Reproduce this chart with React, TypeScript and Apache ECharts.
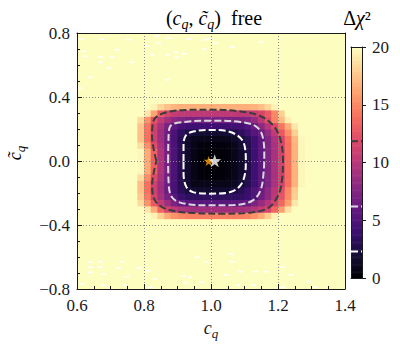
import React, { useEffect, useRef } from "react";
import * as echarts from "echarts";

// ---------- data ----------
const xRange = [0.6, 1.4];
const yRange = [-0.8, 0.8];
const xStep = 0.2;
const yStep = 0.4;
const colorRange = [0, 20];
const colorStep = 5;
const SATURATED = 20;

// Δχ² cell values (cells 0.02 wide, 0.04 tall); everything outside this window is saturated
const winX = [0.79, 0.81, 0.83, 0.85, 0.87, 0.89, 0.91, 0.93, 0.95, 0.97, 0.99, 1.01, 1.03, 1.05, 1.07, 1.09, 1.11, 1.13, 1.15, 1.17, 1.19, 1.21, 1.23, 1.25, 1.27];
const winY = [0.34, 0.30, 0.26, 0.22, 0.18, 0.14, 0.10, 0.06, 0.02, -0.02, -0.06, -0.10, -0.14, -0.18, -0.22, -0.26, -0.30, -0.34];
const chi2Window = [
  [20, 20, 19.5, 18.3, 17.4, 16.9, 16.7, 16.7, 16.7, 16.7, 16.7, 16.7, 16.7, 16.7, 16.7, 16.7, 16.7, 16.8, 17.3, 18.3, 19.5, 20, 20, 20, 20],
  [20, 19.0, 16.3, 13.0, 11.5, 10.7, 10.4, 10.3, 10.3, 10.3, 10.3, 10.3, 10.3, 10.3, 10.3, 10.3, 10.4, 10.9, 11.6, 12.8, 15.0, 18.0, 20, 20, 20],
  [18.5, 15.5, 12.5, 10.5, 9.0, 8.0, 7.4, 7.1, 7.0, 7.0, 7.0, 7.0, 7.0, 7.0, 7.0, 7.1, 7.4, 8.4, 10.2, 12.4, 14.8, 17.2, 19.4, 20, 20],
  [17.6, 14.3, 11.4, 9.2, 7.0, 5.6, 4.6, 4.2, 4.2, 4.2, 4.2, 4.2, 4.2, 4.2, 4.3, 4.5, 5.0, 6.2, 8.0, 10.0, 12.0, 14.2, 16.6, 19.0, 20],
  [17.4, 14.1, 11.1, 8.8, 6.5, 4.8, 3.4, 2.6, 2.1, 1.9, 1.9, 1.9, 1.9, 2.0, 2.5, 3.3, 4.3, 5.3, 6.4, 8.3, 10.5, 12.8, 15.3, 18.0, 20],
  [17.4, 14.1, 11.1, 8.8, 6.4, 4.7, 3.0, 1.7, 1.0, 0.9, 0.9, 0.9, 0.9, 1.0, 1.4, 2.2, 3.1, 4.2, 5.6, 7.4, 9.5, 11.6, 14.2, 17.0, 19.8],
  [18.6, 15.3, 12.1, 9.2, 6.6, 4.8, 3.0, 1.6, 0.7, 0.35, 0.33, 0.33, 0.33, 0.44, 0.88, 1.8, 2.8, 4.1, 5.6, 7.3, 9.3, 11.3, 14.0, 16.8, 19.7],
  [19.8, 16.6, 13.2, 9.6, 6.9, 4.9, 3.0, 1.6, 0.67, 0.2, 0.07, 0.07, 0.11, 0.37, 0.86, 1.6, 2.7, 4.1, 5.6, 7.3, 9.3, 11.3, 14.0, 16.8, 19.7],
  [19.8, 16.6, 13.2, 9.6, 6.9, 4.9, 3.0, 1.6, 0.67, 0.19, 0.01, 0.01, 0.1, 0.37, 0.86, 1.6, 2.7, 4.1, 5.6, 7.3, 9.3, 11.3, 14.0, 16.8, 19.7],
  [19.8, 16.6, 13.2, 9.6, 6.9, 4.9, 3.0, 1.6, 0.67, 0.19, 0.0, 0.01, 0.1, 0.37, 0.86, 1.6, 2.7, 4.1, 5.6, 7.3, 9.3, 11.3, 14.0, 16.8, 19.7],
  [19.8, 16.6, 13.2, 9.6, 6.9, 4.9, 3.0, 1.6, 0.67, 0.2, 0.06, 0.06, 0.11, 0.37, 0.86, 1.6, 2.7, 4.1, 5.6, 7.3, 9.3, 11.3, 14.0, 16.8, 19.7],
  [18.6, 15.3, 12.1, 9.2, 6.6, 4.8, 3.0, 1.6, 0.7, 0.3, 0.28, 0.28, 0.29, 0.42, 0.86, 1.7, 2.8, 4.1, 5.6, 7.3, 9.3, 11.3, 14.0, 16.8, 19.7],
  [17.4, 14.1, 11.1, 8.8, 6.4, 4.7, 3.0, 1.7, 0.9, 0.8, 0.8, 0.8, 0.8, 0.9, 1.2, 2.0, 2.9, 4.1, 5.6, 7.3, 9.3, 11.3, 14.0, 16.8, 19.7],
  [17.4, 14.1, 11.1, 8.8, 6.4, 4.7, 3.2, 2.3, 1.9, 1.6, 1.6, 1.6, 1.6, 1.7, 2.3, 3.0, 3.9, 5.0, 6.3, 8.0, 10.0, 12.3, 15.0, 17.8, 20],
  [17.8, 14.5, 11.5, 9.2, 7.0, 5.3, 4.0, 3.4, 3.3, 3.3, 3.3, 3.3, 3.3, 3.3, 3.4, 3.5, 4.0, 5.0, 6.6, 8.2, 10.3, 12.6, 15.2, 18.0, 20],
  [18.5, 15.5, 12.8, 10.6, 8.8, 7.2, 6.1, 5.5, 5.4, 5.4, 5.4, 5.4, 5.4, 5.4, 5.5, 5.7, 6.2, 7.2, 8.4, 9.8, 11.4, 13.5, 16.0, 19.0, 20],
  [20, 19.0, 16.5, 13.5, 11.5, 10.3, 9.6, 9.2, 8.9, 8.9, 8.9, 8.9, 8.9, 8.9, 8.9, 9.0, 9.2, 9.7, 10.5, 11.6, 13.5, 16.0, 18.8, 20, 20],
  [20, 20, 19.5, 18.0, 16.5, 15.5, 15.0, 14.7, 14.6, 14.6, 14.6, 14.6, 14.6, 14.6, 14.6, 14.7, 14.9, 15.5, 16.5, 18.0, 19.5, 20, 20, 20, 20],
];

// empty (missing) cells seen as white specks in the saturated region
const missingCells = [
  [0.612, 0.76], [0.675, 0.76], [0.754, 0.758], [0.62, 0.686], [0.72, 0.696], [0.625, 0.654], [0.67, 0.65],
  [0.705, 0.65], [0.67, 0.617], [0.695, 0.58], [0.764, 0.617], [0.64, 0.523], [0.608, 0.456], [0.839, 0.783],
  [0.844, 0.738], [0.874, 0.769], [0.933, 0.762], [0.983, 0.758], [0.98, 0.7], [0.809, 0.72], [0.824, 0.664],
  [0.87, 0.664], [0.896, 0.679], [0.92, 0.67], [0.898, 0.65], [0.87, 0.508], [0.995, 0.762], [1.014, 0.738],
  [1.064, 0.712], [1.149, 0.742],
  [0.64, -0.633], [0.67, -0.629], [0.734, -0.629], [0.64, -0.664], [0.67, -0.664], [0.724, -0.67], [0.784, -0.67],
  [0.64, -0.696], [0.68, -0.706], [0.749, -0.723], [0.615, -0.769], [0.68, -0.775], [0.744, -0.775], [0.814, -0.686],
  [0.834, -0.738], [0.918, -0.717], [0.938, -0.727], [0.958, -0.602], [0.988, -0.629], [0.923, -0.762], [0.973, -0.758],
  [0.819, -0.79], [1.059, -0.581], [1.064, -0.629], [1.045, -0.712], [1.088, -0.692], [1.134, -0.692], [1.164, -0.692],
  [1.08, -0.775], [1.127, -0.775], [1.214, -0.664], [1.239, -0.712], [1.293, -0.754], [1.31, -0.79], [1.214, -0.79],
];

// contour levels and their traced outlines
const contourLevels = [2.3, 6.18, 11.83];
const contour1 = [
  [0.918, 0.0], [0.918, 0.1], [0.925, 0.16], [0.95, 0.186], [1.0, 0.194], [1.045, 0.188], [1.075, 0.165],
  [1.095, 0.125], [1.103, 0.06], [1.104, 0.0], [1.102, -0.073], [1.088, -0.152], [1.058, -0.194], [1.0, -0.204],
  [0.948, -0.196], [0.926, -0.16], [0.918, -0.073], [0.918, 0.0],
];
const contour2 = [
  [0.872, 0.0], [0.873, 0.135], [0.879, 0.219], [0.928, 0.246], [1.0, 0.252], [1.088, 0.244], [1.132, 0.219],
  [1.152, 0.167], [1.159, 0.052], [1.157, -0.073], [1.147, -0.188], [1.122, -0.25], [1.068, -0.275], [0.988, -0.277],
  [0.908, -0.26], [0.881, -0.219], [0.873, -0.115], [0.872, 0.0],
];
const contour3 = [
  [0.837, 0.0], [0.829, 0.073], [0.824, 0.156], [0.826, 0.229], [0.834, 0.271], [0.869, 0.306], [0.928, 0.319],
  [1.0, 0.321], [1.088, 0.31], [1.147, 0.281], [1.187, 0.219], [1.207, 0.135], [1.215, 0.01], [1.212, -0.115],
  [1.202, -0.208], [1.172, -0.292], [1.117, -0.323], [1.038, -0.329], [0.948, -0.325], [0.869, -0.302],
  [0.834, -0.25], [0.824, -0.156], [0.829, -0.073], [0.837, 0.0],
];
const bestFit = [[0.993, 0.0]];
const smPoint = [[1.011, 0.002]];

// ---------- styles ----------
const FONT = "Liberation Serif";
const INK = "#1a1a1a";
const MAGMA = ["#000004", "#140e36", "#3b0f70", "#641a80", "#8c2981", "#b73779", "#de4968", "#f7705c", "#fe9f6d", "#fecf92", "#fcfdbf"];
const CONTOUR_COLORS = ["#ffffff", "#d9d9de", "#3c3c3c"];
const STAR = "path://M12,0 L14.9,8.6 L24,8.8 L16.7,14.3 L19.4,23 L12,17.8 L4.6,23 L7.3,14.3 L0,8.8 L9.1,8.6 Z";

const CELL_DX = 0.02;
const CELL_DY = 0.04;
const CB_STEP = 0.1;

function buildHeat() {
  const out: number[][] = [];
  const nx = Math.round((xRange[1] - xRange[0]) / CELL_DX);
  const ny = Math.round((yRange[1] - yRange[0]) / CELL_DY);
  const xi = new Map(winX.map((v, i) => [Math.round(v * 100), i]));
  const yi = new Map(winY.map((v, i) => [Math.round(v * 100), i]));
  for (let i = 0; i < nx; i++) {
    const x = xRange[0] + CELL_DX * (i + 0.5);
    for (let j = 0; j < ny; j++) {
      const y = yRange[0] + CELL_DY * (j + 0.5);
      const ci = xi.get(Math.round(x * 100));
      const rj = yi.get(Math.round(y * 100));
      const v = ci !== undefined && rj !== undefined ? chi2Window[rj][ci] : SATURATED;
      out.push([x, y, v]);
    }
  }
  return out;
}

function buildColorbar() {
  const out: number[][] = [];
  const n = Math.round((colorRange[1] - colorRange[0]) / CB_STEP);
  for (let i = 0; i < n; i++) {
    const v = colorRange[0] + CB_STEP * (i + 0.5);
    out.push([0.5, v, v]);
  }
  return out;
}

const fmt = (v: number) => (Math.abs(v) < 1e-9 ? "0.0" : v.toFixed(1)).replace("-", "\u2212");

const richBig = {
  rm: { fontFamily: FONT, fontSize: 20, lineHeight: 26, color: INK },
  it: { fontFamily: FONT, fontSize: 20, lineHeight: 26, fontStyle: "italic", color: INK },
  sub: { fontFamily: FONT, fontSize: 14, lineHeight: 14, fontStyle: "italic", verticalAlign: "bottom", color: INK },
};
const richAx = {
  it: { fontFamily: FONT, fontSize: 18, lineHeight: 24, fontStyle: "italic", color: INK },
  sub: { fontFamily: FONT, fontSize: 13, lineHeight: 13, fontStyle: "italic", verticalAlign: "bottom", color: INK },
};

const frameAxis = (grid: number, pos: string, min: number, max: number) => ({
  gridIndex: grid,
  type: "value",
  position: pos,
  min,
  max,
  z: 10,
  axisLine: { show: true, onZero: false, lineStyle: { color: INK, width: 1 } },
  axisTick: { show: false },
  axisLabel: { show: false },
  splitLine: { show: false },
});

export default function App() {
  const ref = useRef<HTMLDivElement>(null);
  useEffect(() => {
    const chart = echarts.init(ref.current!, undefined, { renderer: "svg" });
    const heat = buildHeat();
    const cb = buildColorbar();

    const contourSeries = [contour1, contour2, contour3].map((c, k) => ({
      type: "line",
      xAxisIndex: 0,
      yAxisIndex: 0,
      data: c,
      smooth: 0.35,
      symbol: "none",
      showSymbol: false,
      silent: true,
      z: 12,
      lineStyle: { color: CONTOUR_COLORS[k], width: 2, type: [7, 3] },
    }));
    const cbLines = contourLevels.map((lvl, k) => ({
      type: "line",
      xAxisIndex: 2,
      yAxisIndex: 2,
      data: [[0, lvl], [1, lvl]],
      symbol: "none",
      showSymbol: false,
      silent: true,
      z: 12,
      lineStyle: { color: CONTOUR_COLORS[k], width: 2, type: [7, 3] },
    }));

    const mainTicks = {
      axisLine: { show: true, onZero: false, lineStyle: { color: INK, width: 1 } },
      axisTick: { show: true, inside: true, length: 5, lineStyle: { color: INK, width: 1 } },
      minorTick: { show: true, splitNumber: 4, length: 3, lineStyle: { color: INK, width: 1 } },
      splitLine: { show: true, lineStyle: { color: "#8a8a8a", width: 1, type: [1, 2] } },
    };

    const option: any = {
      animation: false,
      backgroundColor: "#ffffff",
      textStyle: { fontFamily: FONT, color: INK },
      grid: [
        { left: 77, top: 33, width: 268, height: 256 },
        { left: 351, top: 47, width: 11, height: 231 },
      ],
      xAxis: [
        {
          gridIndex: 0,
          type: "value",
          min: xRange[0],
          max: xRange[1],
          interval: xStep,
          position: "bottom",
          z: 10,
          ...mainTicks,
          axisLabel: { margin: 8, fontSize: 17, fontFamily: FONT, color: INK, formatter: fmt, showMinLabel: true, showMaxLabel: true },
          name: "{it|c}{sub|q}",
          nameLocation: "middle",
          nameGap: 23,
          nameTextStyle: { rich: richAx },
        },
        frameAxis(0, "top", xRange[0], xRange[1]),
        frameAxis(1, "bottom", 0, 1),
        frameAxis(1, "top", 0, 1),
      ],
      yAxis: [
        {
          gridIndex: 0,
          type: "value",
          min: yRange[0],
          max: yRange[1],
          interval: yStep,
          position: "left",
          z: 10,
          ...mainTicks,
          axisLabel: { margin: 7, fontSize: 17, fontFamily: FONT, color: INK, formatter: fmt, showMinLabel: true, showMaxLabel: true },
        },
        frameAxis(0, "right", yRange[0], yRange[1]),
        {
          gridIndex: 1,
          type: "value",
          min: colorRange[0],
          max: colorRange[1],
          interval: colorStep,
          position: "right",
          z: 10,
          axisLine: { show: true, onZero: false, lineStyle: { color: INK, width: 1 } },
          axisTick: { show: true, inside: false, length: 4, lineStyle: { color: INK, width: 1 } },
          splitLine: { show: false },
          axisLabel: { margin: 10, fontSize: 17, fontFamily: FONT, color: INK, showMinLabel: true, showMaxLabel: true, formatter: (v: number) => String(Math.round(v)) },
        },
        frameAxis(1, "left", colorRange[0], colorRange[1]),
      ],
      visualMap: {
        type: "continuous",
        show: false,
        min: colorRange[0],
        max: colorRange[1],
        dimension: 2,
        seriesIndex: [0, 7],
        inRange: { color: MAGMA },
      },
      series: [
        {
          type: "custom",
          xAxisIndex: 0,
          yAxisIndex: 0,
          data: heat,
          encode: { x: 0, y: 1 },
          silent: true,
          z: 1,
          renderItem: (_p: any, api: any) => {
            const x = api.value(0);
            const y = api.value(1);
            const a = api.coord([x - CELL_DX / 2, y + CELL_DY / 2]);
            const b = api.coord([x + CELL_DX / 2, y - CELL_DY / 2]);
            return {
              type: "rect",
              shape: { x: a[0], y: a[1], width: b[0] - a[0] + 0.6, height: b[1] - a[1] + 0.6 },
              style: { fill: api.visual("color") },
            };
          },
        },
        {
          type: "custom",
          xAxisIndex: 0,
          yAxisIndex: 0,
          data: missingCells,
          encode: { x: 0, y: 1 },
          silent: true,
          z: 2,
          renderItem: (_p: any, api: any) => {
            const x = api.value(0);
            const y = api.value(1);
            const a = api.coord([x - 0.007, y + 0.005]);
            const b = api.coord([x + 0.007, y - 0.005]);
            return { type: "rect", shape: { x: a[0], y: a[1], width: b[0] - a[0], height: b[1] - a[1] }, style: { fill: "#ffffff" } };
          },
        },
        ...contourSeries,
        {
          type: "scatter",
          xAxisIndex: 0,
          yAxisIndex: 0,
          data: bestFit,
          symbol: STAR,
          symbolSize: 10,
          itemStyle: { color: "#ffa000" },
          z: 13,
          silent: true,
        },
        {
          type: "scatter",
          xAxisIndex: 0,
          yAxisIndex: 0,
          data: smPoint,
          symbol: STAR,
          symbolSize: 13,
          itemStyle: { color: "#ffffff" },
          z: 14,
          silent: true,
        },
        {
          type: "custom",
          xAxisIndex: 2,
          yAxisIndex: 2,
          data: cb,
          encode: { x: 0, y: 1 },
          silent: true,
          z: 1,
          renderItem: (_p: any, api: any) => {
            const v = api.value(1);
            const a = api.coord([0, v + CB_STEP / 2]);
            const b = api.coord([1, v - CB_STEP / 2]);
            return {
              type: "rect",
              shape: { x: a[0], y: a[1], width: b[0] - a[0], height: b[1] - a[1] + 0.6 },
              style: { fill: api.visual("color") },
            };
          },
        },
        ...cbLines,
      ],
      graphic: [
        {
          type: "text",
          x: 214,
          y: 5,
          z: 100,
          style: {
            text: "{rm|(}{it|c}{sub|q}{rm|, }{it|c\u0303}{sub|q}{rm|)  free}",
            rich: richBig,
            fontFamily: FONT,
            align: "center",
            verticalAlign: "top",
            textAlign: "center",
            textVerticalAlign: "top",
          },
        },
        {
          type: "text",
          x: 357,
          y: 5,
          z: 100,
          style: {
            text: "{rm|\u0394}{it|\u03c7}{rm|\u00b2}",
            rich: richBig,
            fontFamily: FONT,
            align: "center",
            verticalAlign: "top",
            textAlign: "center",
            textVerticalAlign: "top",
          },
        },
        {
          type: "text",
          x: 15,
          y: 153,
          rotation: Math.PI / 2,
          z: 100,
          style: {
            text: "{it|c\u0303}{sub|q}",
            rich: richAx,
            fontFamily: FONT,
            align: "center",
            verticalAlign: "middle",
            textAlign: "center",
            textVerticalAlign: "middle",
          },
        },
      ],
    };
    chart.setOption(option);
    return () => chart.dispose();
  }, []);
  return <div ref={ref} style={{ position: "fixed", left: 0, top: 0, width: 400, height: 345 }} />;
}
